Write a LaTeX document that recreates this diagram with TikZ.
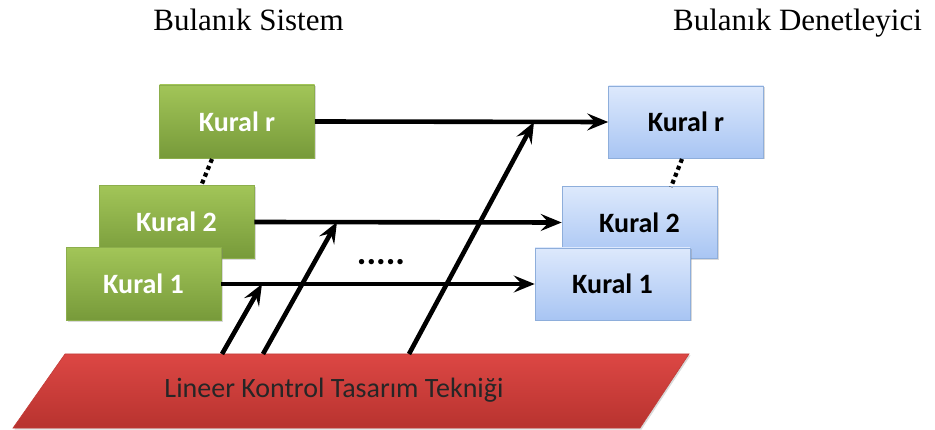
\documentclass[tikz,border=0pt]{standalone}
\usepackage{fontspec}
\setmainfont{Liberation Serif}
\newfontfamily\calfont{Carlito}
\usetikzlibrary{arrows.meta,shadows}
\definecolor{gtop}{HTML}{A2C558}
\definecolor{gbot}{HTML}{779A3A}
\definecolor{gline}{HTML}{8CAE4C}
\definecolor{btop}{HTML}{DDE9FC}
\definecolor{bbot}{HTML}{A8C5F3}
\definecolor{bline}{HTML}{8EAEDB}
\definecolor{rtop}{HTML}{DC4744}
\definecolor{rbot}{HTML}{B8332F}
\definecolor{rline}{HTML}{C23D39}
\tikzset{
  greenbox/.style={draw=gline, line width=0.6pt, top color=gtop, bottom color=gbot,
    minimum width=155pt, minimum height=73pt, inner sep=0pt, text=white,
    font=\calfont\fontsize{28}{28}\selectfont\bfseries,
    drop shadow={shadow xshift=1.5pt, shadow yshift=-1.5pt, opacity=0.3}},
  bluebox/.style={draw=bline, line width=0.6pt, top color=btop, bottom color=bbot,
    minimum width=155pt, minimum height=72pt, inner sep=0pt, text=black,
    font=\calfont\fontsize{28}{28}\selectfont\bfseries,
    drop shadow={shadow xshift=1.5pt, shadow yshift=-1.5pt, opacity=0.3}},
  arr/.style={line width=4.6pt, -{Stealth[length=21pt,width=17pt,inset=8pt]}},
  dotline/.style={line width=4.2pt, dash pattern=on 4pt off 3.5pt},
  title/.style={font=\fontsize{31}{31}\selectfont, anchor=base}
}
\begin{document}
\begin{tikzpicture}[x=1pt,y=-1pt]
\useasboundingbox (0,0) rectangle (935,430);
% titles
\node[title] (t1) at (248.5,31) {Bulanık Sistem};
\node[title] (t2) at (797.5,31) {Bulanık Denetleyici};
% green boxes
\node[greenbox] (gr) at (237,121.5) {Kural r};
\node[greenbox] (g2) at (176.5,222) {Kural 2};
\node[greenbox] (g1) at (143.5,284) {Kural 1};
% blue boxes
\node[bluebox] (br) at (686,122) {Kural r};
\node[bluebox] (b2) at (639.5,222.5) {Kural 2};
\node[bluebox] (b1) at (612.5,284) {Kural 1};
% dotted connectors
\coordinate (gda) at (212,159);
\coordinate (gdb) at (201,186);
\draw[dotline] (gda) -- (gdb);
\coordinate (bda) at (682,159);
\coordinate (bdb) at (671,187);
\draw[dotline] (bda) -- (bdb);
% red parallelogram
\coordinate (ptl) at (65,354);
\coordinate (ptr) at (689,354);
\coordinate (pbr) at (640,428);
\coordinate (pbl) at (13,428);
\shade[top color=rtop, bottom color=rbot, draw=rline, line width=0.6pt,
  drop shadow={shadow xshift=1.5pt, shadow yshift=-1.5pt, opacity=0.3}]
  (ptl) -- (ptr) -- (pbr) -- (pbl) -- cycle;
\node[font=\calfont\fontsize{28}{28}\selectfont, text=black!85] (red) at (334,390) {Lineer Kontrol Tasarım Tekniği};
% horizontal arrows
\draw[arr] (gr.east) -- (br.west);
\draw[arr] (g2.east) -- (b2.west);
\draw[arr] (g1.east) -- (b1.west);
% dots text
\node[font=\calfont\fontsize{36}{36}\selectfont\bfseries, anchor=base] (dots) at (381,265) {.....};
% diagonal arrows
\coordinate (s1) at (222,354);
\coordinate (s2) at (263,354);
\coordinate (s3) at (409,354);
\coordinate (e1) at (262,284);
\coordinate (e2) at (337,222);
\coordinate (e3) at (534,122);
\draw[arr] (s1) -- (e1);
\draw[arr] (s2) -- (e2);
\draw[arr] (s3) -- (e3);
\end{tikzpicture}
\end{document}
